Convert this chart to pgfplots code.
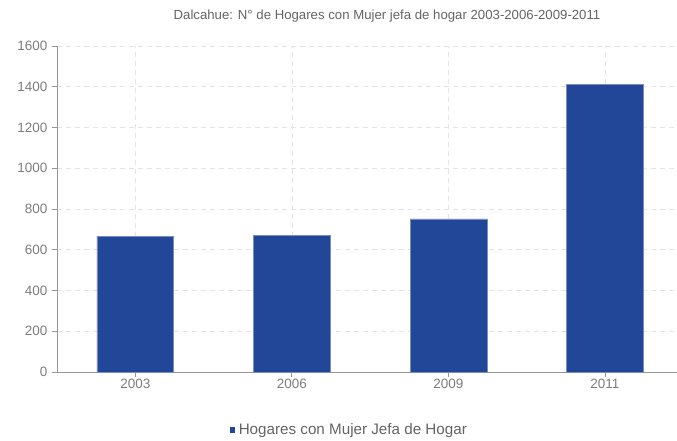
\documentclass[border=0pt]{standalone}
\usepackage{pgfplots}
\pgfplotsset{compat=1.18}
\usepackage{fontspec}
\setmainfont{Liberation Sans}
\definecolor{barblue}{RGB}{34,71,152}
\definecolor{baredge}{RGB}{120,140,190}
\definecolor{gridgray}{RGB}{228,228,228}
\definecolor{axisgray}{RGB}{150,150,150}
\definecolor{labelgray}{RGB}{125,125,125}
\definecolor{titlegray}{RGB}{100,100,100}
\begin{document}
\begin{tikzpicture}[x=1pt,y=1pt]
    \path[use as bounding box] (0,0) rectangle (677,441);

    % titulo
    \node[font=\fontsize{13.2}{15}\selectfont, text=titlegray] at (387,425)
        {Dalcahue: N° de Hogares con Mujer jefa de hogar 2003-2006-2009-2011};

    \begin{axis}[
        at={(57pt,69pt)},
        anchor=south west,
        scale only axis,
        width=620pt,
        height=326pt,
        xmin=-0.5, xmax=3.46,
        ymin=0, ymax=1600,
        axis lines*=left,
        axis line style={axisgray, line width=0.8pt},
        xtick={0,1,2,3},
        xticklabels={2003,2006,2009,2011},
        ytick={0,200,...,1600},
        tick align=outside,
        major tick length=5pt,
        tick style={axisgray, line width=0.8pt},
        ymajorgrids, xmajorgrids,
        grid style={gridgray, dash pattern=on 5pt off 4pt, line width=0.7pt},
        tick label style={font=\fontsize{13.5}{15}\selectfont, text=labelgray},
        /pgf/number format/assume math mode=true,
        /pgf/number format/set thousands separator={},
        yticklabel style={xshift=-1pt},
        xticklabel style={yshift=1pt},
        clip=false,
        legend style={
            at={(0.4714,-0.178)},
            anchor=center,
            draw=none,
            fill=none,
            font=\fontsize{15.2}{17}\selectfont,
            text=titlegray,
            inner sep=0pt,
            /tikz/every even column/.append style={column sep=0pt},
        },
        legend image code/.code={
            \fill[barblue] (0pt,-2.3pt) rectangle (4.6pt,2.3pt);
        },
    ]

        % hogares con mujer jefa de hogar
        \addplot[
            ybar,
            bar width=0.49,
            fill=barblue,
            draw=baredge,
            line width=0.5pt
        ] coordinates {
            (0,667)
            (1,669)
            (2,751)
            (3,1413)
        };
        \addlegendentry{\hspace{2pt}Hogares con Mujer Jefa de Hogar}

    \end{axis}
\end{tikzpicture}
\end{document}
